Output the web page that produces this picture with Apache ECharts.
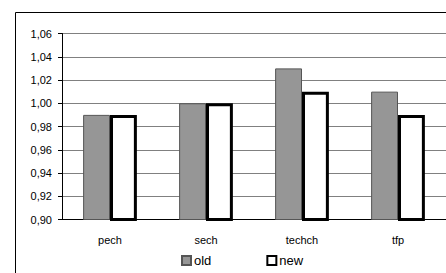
<!DOCTYPE html>
<html>
<head>
<meta charset="utf-8">
<script src="https://cdn.jsdelivr.net/npm/echarts@6/dist/echarts.min.js"></script>
<style>
  html, body { margin: 0; padding: 0; background: #fff; }
  #chart { width: 446px; height: 273px; }
</style>
</head>
<body>
<div id="chart"></div>
<script>
var categories = ['pech', 'sech', 'techch', 'tfp'];
var oldValues = [0.99, 1.00, 1.03, 1.01];
var newValues = [0.99, 1.00, 1.01, 0.99];
var seriesNames = ['old', 'new'];

var font = 'Liberation Sans, Arial, sans-serif';
var chart = echarts.init(document.getElementById('chart'), null, { renderer: 'svg' });
chart.setOption({
  animation: false,
  graphic: [{
    type: 'rect',
    shape: { x: 15.5, y: 12.5, width: 480, height: 300 },
    style: { fill: 'none', stroke: '#000', lineWidth: 1 },
    silent: true
  }],
  grid: { left: 62, top: 33.5, width: 387, height: 186 },
  legend: {
    left: 176, top: 249,
    itemWidth: 9, itemHeight: 9, itemGap: 55,
    textStyle: { fontFamily: font, fontSize: 13, color: '#000', padding: [0, 0, 0, -2] },
    data: [
      { name: seriesNames[0], icon: 'rect' },
      { name: seriesNames[1], icon: 'rect' }
    ]
  },
  xAxis: {
    type: 'category',
    data: categories,
    axisLine: { lineStyle: { color: '#000', width: 1 } },
    axisTick: { length: 4, lineStyle: { color: '#000' } },
    axisLabel: { color: '#000', fontFamily: font, fontSize: 11, margin: 15 }
  },
  yAxis: {
    type: 'value',
    min: 0.9, max: 1.06, interval: 0.02,
    axisLine: { show: true, lineStyle: { color: '#000', width: 1 } },
    axisTick: { show: true, length: 4, lineStyle: { color: '#000' } },
    splitLine: { lineStyle: { color: '#808080', width: 1 } },
    axisLabel: {
      color: '#000', fontFamily: font, fontSize: 11, margin: 10,
      formatter: function (v) { return v.toFixed(2).replace('.', ','); }
    }
  },
  series: [{
    name: seriesNames[0],
    type: 'bar',
    data: oldValues,
    barGap: '0%',
    barCategoryGap: '44%',
    itemStyle: { color: '#969696', borderColor: '#555', borderWidth: 1 }
  }, {
    name: seriesNames[1],
    type: 'bar',
    data: newValues,
    itemStyle: { color: '#fff', borderColor: '#000', borderWidth: 3 }
  }]
});
</script>
</body>
</html>
